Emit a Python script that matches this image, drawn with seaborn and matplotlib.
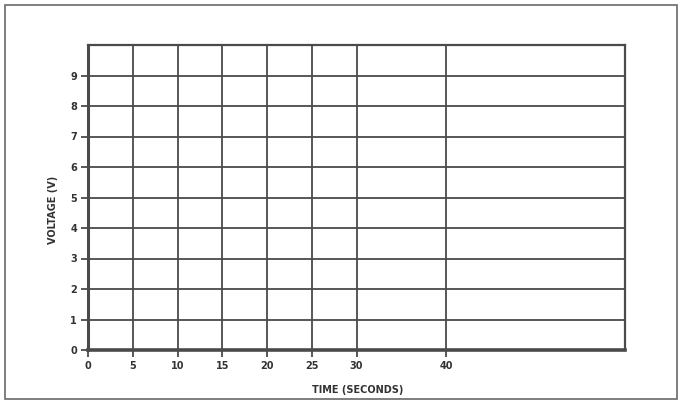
import matplotlib
matplotlib.use("Agg")
import matplotlib.pyplot as plt
import seaborn as sns
import pandas as pd
from matplotlib.patches import Rectangle

# Data (blank grid chart)
time_ticks = [0, 5, 10, 15, 20, 25, 30, 40]
voltage_ticks = [0, 1, 2, 3, 4, 5, 6, 7, 8, 9]
time_range = [0, 60]
voltage_range = [0, 10]
x_label = "TIME (SECONDS)"
y_label = "VOLTAGE (V)"

sns.set_style("white")
plt.rcParams['font.family'] = ['DejaVu Sans']

line_col = "#4a4a4a"
text_col = "#333333"

fig = plt.figure(figsize=(6.81, 4.08), dpi=100)
fig.patch.set_facecolor("white")
ax = fig.add_axes([88/681, 58/408, 537/681, 305/408])

# empty series so seaborn owns the axes
df = pd.DataFrame({"t": pd.Series([], dtype=float), "v": pd.Series([], dtype=float)})
sns.lineplot(data=df, x="t", y="v", ax=ax)

ax.set_xlim(*time_range)
ax.set_ylim(*voltage_range)
ax.set_xticks(time_ticks)
ax.set_yticks(voltage_ticks)
ax.set_xticklabels([str(t) for t in time_ticks], fontsize=7, fontweight="bold", color=text_col)
ax.set_yticklabels([str(v) for v in voltage_ticks], fontsize=7, fontweight="bold", color=text_col)

ax.grid(True, color=line_col, linewidth=1.3)
ax.set_axisbelow(False)

for side, sp in ax.spines.items():
    sp.set_visible(True)
    sp.set_color(line_col)
    sp.set_linewidth(1.6)
ax.spines["bottom"].set_linewidth(2.6)
ax.spines["left"].set_linewidth(2.2)

ax.tick_params(axis="both", direction="out", length=5, width=1.3, color=line_col, pad=3, bottom=True, left=True)

ax.set_xlabel(x_label, fontsize=7, fontweight="bold", color=text_col)
ax.set_ylabel(y_label, fontsize=7, fontweight="bold", color=text_col)
ax.xaxis.set_label_coords((358 - 88) / 537, -(385 - 350) / 305)
ax.yaxis.set_label_coords(-(88 - 58) / 537, (350 - 210) / 305)

# outer page frame
fig.patches.append(Rectangle((5/681, 9/408), 672/681, 394/408, transform=fig.transFigure,
                             fill=False, edgecolor="#6a6a6a", linewidth=1.2))

fig.savefig("out.png", dpi=100, facecolor="white")
